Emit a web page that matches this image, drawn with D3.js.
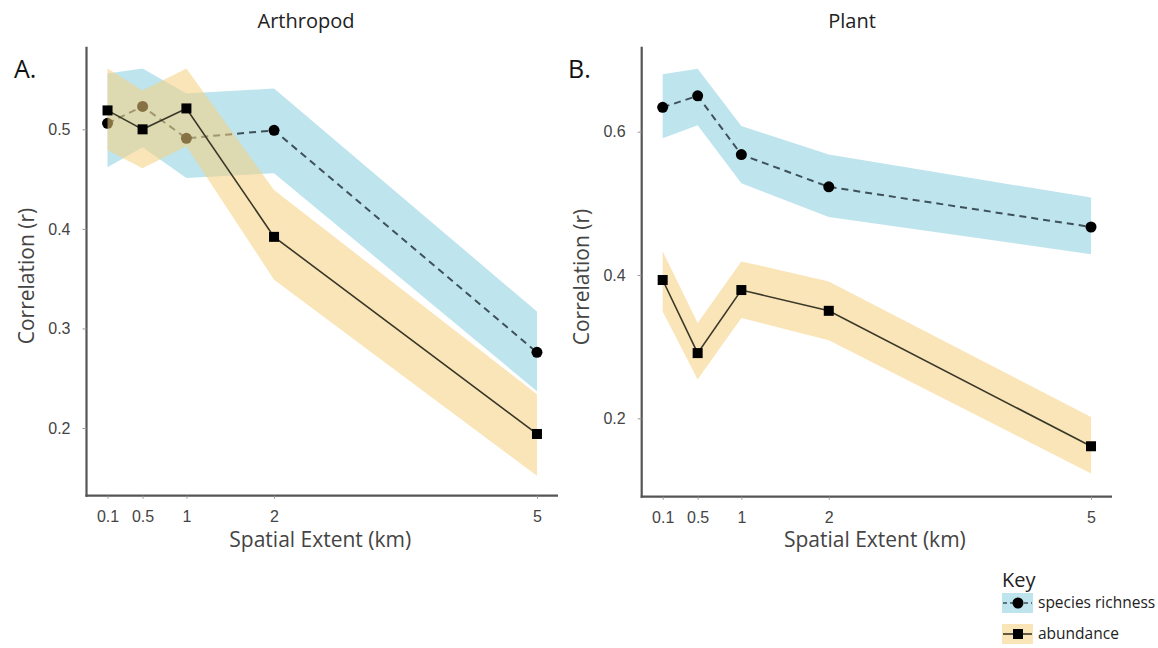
<!DOCTYPE html>
<html>
<head>
<meta charset="utf-8">
<script src="https://cdn.jsdelivr.net/npm/d3@7"></script>
<style>
  html, body { margin: 0; padding: 0; background: #fff; }
  svg { display: block; font-family: "Open Sans", "Noto Sans", sans-serif; }
</style>
</head>
<body>
<svg id="chart" width="1158" height="648"></svg>
<script>
// Spatial extents (km) and tick labels
const extents = [0.1, 0.5, 1, 2, 5];
const extentLabels = ["0.1", "0.5", "1", "2", "5"];

// Arthropod: correlation and confidence band
const arthRichness   = [0.506, 0.523, 0.491, 0.499, 0.276];
const arthRichnessLo = [0.462, 0.482, 0.451, 0.456, 0.237];
const arthRichnessHi = [0.556, 0.561, 0.536, 0.541, 0.317];
const arthAbund      = [0.519, 0.500, 0.521, 0.392, 0.194];
const arthAbundLo    = [0.479, 0.461, 0.483, 0.349, 0.152];
const arthAbundHi    = [0.561, 0.539, 0.561, 0.439, 0.234];

// Plant: correlation and confidence band
const plantRichness   = [0.634, 0.650, 0.568, 0.523, 0.467];
const plantRichnessLo = [0.591, 0.609, 0.528, 0.481, 0.429];
const plantRichnessHi = [0.680, 0.688, 0.608, 0.568, 0.508];
const plantAbund      = [0.393, 0.291, 0.379, 0.350, 0.161];
const plantAbundLo    = [0.349, 0.254, 0.340, 0.309, 0.123];
const plantAbundHi    = [0.433, 0.333, 0.419, 0.391, 0.202];

const arthTicks = [0.2, 0.3, 0.4, 0.5];
const plantTicks = [0.2, 0.4, 0.6];

const C = {
  axis: "#555",
  text: "#444",
  blue: "#bee4ee",
  orange: "rgb(245,208,125)",
  orangeOpacity: 0.55,
  dash: "#3e5058",
  solid: "#3a3829"
};

const svg = d3.select("#chart");

function panel(opts) {
  const x = d3.scaleLinear().domain([-0.14, 5.24]).range([opts.left, opts.right]);
  const y = d3.scaleLinear().domain(opts.yDomain).range([opts.bottom, opts.top]);
  const g = svg.append("g");

  const rows = (mid, lo, hi) => extents.map((e, i) => ({ x: e, v: mid[i], lo: lo[i], hi: hi[i] }));
  const rich = rows(opts.rich, opts.richLo, opts.richHi);
  const abund = rows(opts.abund, opts.abundLo, opts.abundHi);

  const area = d3.area().x(d => x(d.x)).y0(d => y(d.lo)).y1(d => y(d.hi));
  const line = d3.line().x(d => x(d.x)).y(d => y(d.v));

  // species richness band, line, points
  g.append("path").attr("d", area(rich)).attr("fill", C.blue);
  g.append("path").attr("d", line(rich)).attr("fill", "none")
    .attr("stroke", C.dash).attr("stroke-width", 2).attr("stroke-dasharray", "7,5");
  g.selectAll(".rp").data(rich).join("circle")
    .attr("cx", d => x(d.x)).attr("cy", d => y(d.v)).attr("r", 5.5).attr("fill", "#000");

  // abundance band (translucent), line, points
  g.append("path").attr("d", area(abund)).attr("fill", C.orange).attr("fill-opacity", C.orangeOpacity);
  g.append("path").attr("d", line(abund)).attr("fill", "none")
    .attr("stroke", C.solid).attr("stroke-width", 1.6);
  g.selectAll(".ap").data(abund).join("rect")
    .attr("x", d => x(d.x) - 5).attr("y", d => y(d.v) - 5)
    .attr("width", 10).attr("height", 10).attr("fill", "#000");

  // axes
  const xAxis = d3.axisBottom(x).tickValues(extents)
    .tickFormat((d, i) => extentLabels[i]).tickSize(3).tickSizeOuter(0).tickPadding(10);
  const yAxis = d3.axisLeft(y).tickValues(opts.ticks)
    .tickFormat(d3.format(".1f")).tickSize(4).tickSizeOuter(0).tickPadding(12);

  const gx = g.append("g").attr("transform", `translate(0,${opts.bottom})`).call(xAxis);
  const gy = g.append("g").attr("transform", `translate(${opts.left},0)`).call(yAxis);
  [gx, gy].forEach(a => {
    a.select(".domain").attr("stroke", C.axis).attr("stroke-width", 2.2);
    a.selectAll(".tick line").attr("stroke", "#999").attr("stroke-width", 1);
    a.selectAll(".tick text").attr("fill", C.text).style("font-size", "16px");
  });
  gx.selectAll(".tick text").attr("dy", "0.85em");
  // join the two axis lines at the corner
  gx.select(".domain").attr("d", `M${opts.left - 1},0H${opts.right}`);
  gy.select(".domain").attr("d", `M0,${opts.top}V${opts.bottom + 1}`);

  // titles
  g.append("text").attr("x", opts.titleX).attr("y", 28).attr("text-anchor", "middle")
    .attr("fill", "#222").style("font-size", "20px").text(opts.title);
  g.append("text").attr("x", opts.tagX).attr("y", 78)
    .attr("fill", "#111").style("font-size", "25px").text(opts.tag);
  g.append("text").attr("x", (opts.left + opts.right) / 2 - 2).attr("y", 547)
    .attr("text-anchor", "middle").attr("fill", C.text).style("font-size", "21px")
    .text("Spatial Extent (km)");
  g.append("text")
    .attr("transform", `translate(${opts.left - 53},${opts.yTitleY}) rotate(-90)`)
    .attr("text-anchor", "middle").attr("fill", C.text).style("font-size", "21px")
    .text("Correlation (r)");
}

panel({
  left: 86.5, right: 558, top: 46.7, bottom: 495.7,
  yDomain: [0.132, 0.583], ticks: arthTicks,
  rich: arthRichness, richLo: arthRichnessLo, richHi: arthRichnessHi,
  abund: arthAbund, abundLo: arthAbundLo, abundHi: arthAbundHi,
  title: "Arthropod", titleX: 306, tag: "A.", tagX: 14, yTitleY: 276
});

panel({
  left: 641.7, right: 1112, top: 46.7, bottom: 496.7,
  yDomain: [0.0906, 0.7186], ticks: plantTicks,
  rich: plantRichness, richLo: plantRichnessLo, richHi: plantRichnessHi,
  abund: plantAbund, abundLo: plantAbundLo, abundHi: plantAbundHi,
  title: "Plant", titleX: 852, tag: "B.", tagX: 568, yTitleY: 277
});

// legend
const key = svg.append("g");
key.append("text").attr("x", 1002).attr("y", 587).attr("fill", "#222")
  .style("font-size", "20px").text("Key");
const entries = [
  { label: "species richness", y: 603, fill: C.blue, op: 1, dash: "4,3", stroke: C.dash, shape: "circle" },
  { label: "abundance", y: 634, fill: C.orange, op: C.orangeOpacity, dash: null, stroke: C.solid, shape: "square" }
];
entries.forEach(e => {
  key.append("rect").attr("x", 1002).attr("y", e.y - 10).attr("width", 31).attr("height", 20)
    .attr("fill", e.fill).attr("fill-opacity", e.op);
  key.append("line").attr("x1", 1003).attr("x2", 1032).attr("y1", e.y).attr("y2", e.y)
    .attr("stroke", e.stroke).attr("stroke-width", 1.6).attr("stroke-dasharray", e.dash);
  if (e.shape === "circle") {
    key.append("circle").attr("cx", 1018).attr("cy", e.y).attr("r", 5.5).attr("fill", "#000");
  } else {
    key.append("rect").attr("x", 1013).attr("y", e.y - 5).attr("width", 10).attr("height", 10).attr("fill", "#000");
  }
  key.append("text").attr("x", 1038).attr("y", e.y + 5).attr("fill", "#222")
    .style("font-size", "15.5px").text(e.label);
});
</script>
</body>
</html>
